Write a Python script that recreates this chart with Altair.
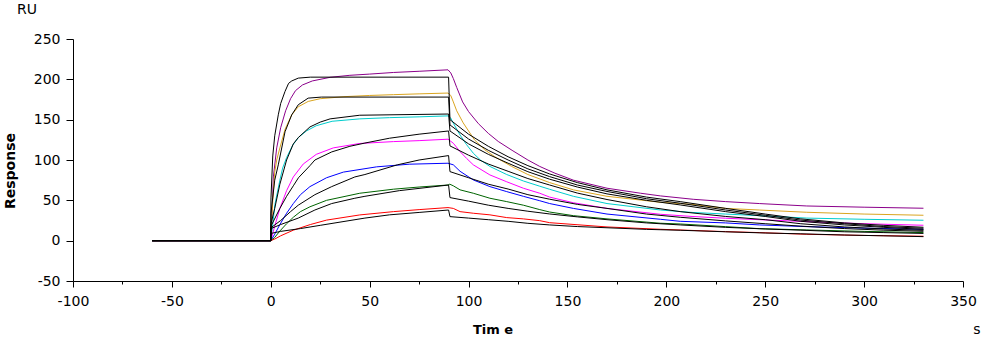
import altair as alt
import pandas as pd

# ---- colored measured curves (time s, response RU) ----
T_PURPLE = [-60, 0, 0.5, 1.3, 3, 5, 7.5, 10, 12.5, 16, 21, 30, 40, 50, 62, 75, 89.6,
            91, 92.3, 94, 97, 100, 105, 110, 115, 122, 130, 136, 143.7, 153, 170, 187, 197, 213.6, 230, 247, 271, 300, 330]
R_PURPLE = [0, 0, 25, 79, 115, 140, 161, 176, 186, 193, 198, 202.5, 205, 206.5, 208.5, 210, 211.8,
            208, 201, 190, 172, 160, 145, 133, 123, 112, 100, 92, 83.6, 75, 65, 58.8, 55.5, 51.3, 48.4, 46, 43, 41.5, 40.2]

T_ORANGE = [-60, 0, 1, 2, 3, 4.6, 7.2, 10.6, 13.9, 18.9, 25, 37, 50, 62, 75, 89.6,
            91, 92.3, 94, 97.3, 100, 103, 108, 113.3, 121.8, 130, 141, 153, 170, 197, 213, 230, 247, 271, 300, 330]
R_ORANGE = [0, 0, 50, 85, 100, 115, 138, 156, 166, 172.6, 176, 178.5, 180, 181, 182, 183,
            180, 172, 161, 146, 136, 125, 113, 104, 92, 82, 72, 63, 55, 47.6, 45, 40, 38, 35.2, 33, 31.5]

T_CYAN = [-60, 0, 1, 2.1, 4.6, 6, 8, 11, 14, 18, 23, 31, 45, 60, 75, 89.6,
          91, 92.3, 95.7, 99, 102.4, 106, 110.8, 119.3, 127.7, 136, 141, 153, 170, 197, 213, 230, 247, 271, 300, 330]
R_CYAN = [0, 0, 20, 45, 75, 90, 103, 118, 128, 136, 142.5, 148, 151, 152.5, 153.5, 154.7,
          152, 145.6, 131, 119, 108.4, 100, 92, 82, 74, 67.5, 63.7, 55, 46, 38, 35, 33, 31, 28, 26.5, 25.3]

T_MAGENTA = [-60, 0, 2, 4.6, 8, 11.4, 16.4, 23, 31.6, 45, 62, 75, 89.6,
             92.3, 95.7, 99, 102.4, 110.8, 119.3, 127.7, 136, 141, 153, 170, 197, 213, 230, 247, 271, 300, 330]
R_MAGENTA = [0, 0, 18, 40, 62, 79, 95, 107, 115, 120.5, 122.8, 124, 125.8,
             120.8, 110.4, 102, 94, 81.5, 73, 65, 58.8, 54, 47, 40, 32.7, 30, 27.8, 26, 23.6, 21, 19.1]

T_BLUE = [-60, 0, 2, 4.6, 8, 11.4, 15, 19.8, 28.2, 36.7, 53.5, 70, 89.6,
          92.3, 95.7, 102.4, 110.8, 119.3, 127.7, 136, 141, 153, 170, 197, 207, 230, 247, 271, 300, 330]
R_BLUE = [0, 0, 8, 20, 34, 46, 57, 67, 78, 85, 91.5, 94.8, 96,
          94, 86, 75.3, 67, 60.8, 55, 49.5, 46, 40, 33, 26.5, 24, 22, 19.5, 17.4, 15.5, 14.1]

T_GREEN = [-60, 0, 2, 4.6, 8, 11.4, 15, 19.8, 28.2, 45, 62, 75, 89.6,
           90.5, 92.3, 95.7, 102.4, 110.8, 119.3, 127.7, 136, 141, 153, 170, 197, 207, 230, 247, 271, 300, 330]
R_GREEN = [0, 0, 4, 12, 21, 29, 36, 42, 50, 58.8, 63.8, 66.5, 69,
           70, 68, 63, 58.8, 52.6, 48.4, 44, 38.5, 35.5, 31, 27, 21.6, 20.7, 17.4, 14.9, 13.3, 11.5, 10]

T_RED = [-60, 0, 2, 5, 11.4, 20, 28.2, 45, 62, 75, 89.6,
         92.3, 95.7, 102.4, 110.8, 119.3, 127.7, 136, 141, 170, 197, 230, 247, 271, 300, 330]
R_RED = [0, 0, 2, 6, 13, 20, 25.5, 31.9, 36, 38.5, 41,
         40, 36, 34, 32, 28.6, 27, 24.8, 22.3, 17, 14.1, 11.2, 10, 7.9, 6.5, 5.5]

# ---- black fitted curves ----
T_FIT1 = [-60, 0, 0.1, 1, 2, 3.8, 5, 7.2, 9, 10.6, 13.9, 20, 89.9,
          90.6, 100, 110, 120, 130, 141, 155, 170, 190, 207, 230, 250, 268, 290, 310, 330]
R_FIT1 = [0, 0, 53, 105, 130, 156, 170, 185, 195, 198, 201.5, 202.7, 202.7,
          150, 132, 117, 104, 93, 82.7, 72, 63, 54, 48.4, 40, 33, 27, 22, 19, 16.6]

T_FIT2 = [-60, 0, 0.1, 2, 3.8, 7.2, 10.6, 13.9, 18.9, 25.6, 89.9,
          90.6, 100, 110, 120, 130, 141, 155, 170, 190, 207, 230, 250, 268, 290, 310, 330]
R_FIT2 = [0, 0, 34, 75, 94, 135, 156, 168.5, 176.7, 178, 178,
          143.5, 126, 112, 100, 89, 79.4, 69, 61, 52, 46.4, 38, 31.5, 25.5, 21, 17.5, 15.4]

T_FIT3 = [-60, 0, 0.1, 2, 4.6, 8, 11.4, 14, 19.8, 25, 30, 45, 89.9,
          90.6, 100, 110, 120, 130, 141, 155, 170, 190, 207, 230, 250, 268, 290, 310, 330]
R_FIT3 = [0, 0, 21, 40, 70, 100, 120, 128, 141, 147, 151, 155.5, 157,
          136, 120, 107, 96, 85.5, 76.2, 66.5, 58, 50, 44.3, 36, 30, 24, 19.5, 16.5, 14]

T_FIT4 = [-60, 0, 0.1, 4.6, 8, 11.4, 14, 19.8, 22.3, 30.8, 40, 47.6, 60, 75, 89.9,
          90.6, 100, 110, 120, 130, 141, 155, 170, 190, 207, 230, 250, 268, 290, 310, 330]
R_FIT4 = [0, 0, 18, 40, 55, 68, 78, 93, 100, 110, 117, 121, 127, 132, 136,
          117.5, 106, 95, 86, 77, 69, 59, 51, 42, 36, 30, 26, 21, 17, 14.5, 12.8]

T_FIT5 = [-60, 0, 0.1, 5, 10, 13.9, 22.3, 30.8, 42.5, 47.6, 64, 75, 89.9,
          90.6, 100, 110, 120, 130, 141, 155, 170, 190, 207, 230, 250, 268, 290, 310, 330]
R_FIT5 = [0, 0, 16, 25, 36, 44, 57, 67, 79, 82, 94, 100, 105.5,
          85.6, 78, 70, 64, 57, 51.4, 45, 40, 33, 29, 24.5, 21, 18, 15, 13, 11.6]

T_FIT6 = [-60, 0, 0.1, 5, 13.9, 22.3, 30.8, 42.5, 47.6, 65, 89.9,
          90.6, 100, 110, 120, 130, 141, 155, 170, 190, 207, 230, 250, 268, 290, 310, 330]
R_FIT6 = [0, 0, 15, 20, 28, 38, 46, 52.6, 55, 62, 69,
          53.4, 49, 44, 40, 36.5, 33.1, 29.5, 26, 22, 19.5, 16.5, 14.5, 13, 11, 10, 9]

T_FIT7 = [-60, 0, 0.1, 5, 15, 25, 35, 47.6, 60, 75, 89.9,
          90.6, 100, 110, 120, 130, 141, 155, 170, 190, 207, 230, 250, 268, 290, 310, 330]
R_FIT7 = [0, 0, 9, 11.5, 15, 19, 23, 28, 32, 35, 38,
          29.8, 28, 26, 24, 21.5, 19.5, 17.5, 16, 14, 12.9, 11, 9.5, 8.5, 7, 6, 5]

CURVE_NAMES = ["purple", "orange", "cyan", "magenta", "blue", "green", "red"]
CURVE_COLORS = ["#8B008B", "#DAA520", "#00CDCD", "#FF00FF", "#0000FF", "#006400", "#FF0000"]
DATA_T = [T_PURPLE, T_ORANGE, T_CYAN, T_MAGENTA, T_BLUE, T_GREEN, T_RED]
DATA_R = [R_PURPLE, R_ORANGE, R_CYAN, R_MAGENTA, R_BLUE, R_GREEN, R_RED]
FIT_T = [T_FIT1, T_FIT2, T_FIT3, T_FIT4, T_FIT5, T_FIT6, T_FIT7]
FIT_R = [R_FIT1, R_FIT2, R_FIT3, R_FIT4, R_FIT5, R_FIT6, R_FIT7]

X_TICKS = list(range(-100, 351, 25))
Y_TICKS = list(range(-50, 251, 25))

rows = []
for name, ts, rs in zip(CURVE_NAMES, DATA_T, DATA_R):
    for i, (t, r) in enumerate(zip(ts, rs)):
        rows.append({"t": t, "R": r, "curve": name, "i": i})
df_data = pd.DataFrame(rows)

rows = []
for k, (ts, rs) in enumerate(zip(FIT_T, FIT_R)):
    for i, (t, r) in enumerate(zip(ts, rs)):
        rows.append({"t": t, "R": r, "curve": f"fit{k+1}", "i": i})
df_fit = pd.DataFrame(rows)

FONT = "DejaVu Sans"

x_enc = alt.X("t:Q", scale=alt.Scale(domain=[-100, 350], nice=False, zero=False),
              axis=alt.Axis(values=X_TICKS, title=None, grid=False,
                            labelExpr="datum.value % 50 == 0 ? '' + datum.value : ''",
                            tickSize=alt.condition("datum.value % 50 == 0", alt.value(6), alt.value(3)),
                            labelPadding=7, labelFlush=False))
y_enc = alt.Y("R:Q", scale=alt.Scale(domain=[-50, 250], nice=False, zero=False),
              axis=alt.Axis(values=Y_TICKS, title=None, grid=False,
                            labelExpr="datum.value % 50 == 0 ? '' + datum.value : ''",
                            tickSize=alt.condition("datum.value % 50 == 0", alt.value(7), alt.value(3)),
                            labelPadding=6, labelFlush=False))

data_layer = alt.Chart(df_data).mark_line(strokeWidth=1).encode(
    x=x_enc, y=y_enc,
    color=alt.Color("curve:N", scale=alt.Scale(domain=CURVE_NAMES, range=CURVE_COLORS), legend=None),
    order="i:Q",
)

fit_layer = alt.Chart(df_fit).mark_line(strokeWidth=1, color="black").encode(
    x="t:Q", y="R:Q", detail="curve:N", order="i:Q",
)

one = pd.DataFrame({"a": [0]})
ru = alt.Chart(one).mark_text(text="RU", font=FONT, fontSize=14, color="black",
                              align="center", baseline="middle").encode(
    x=alt.value(-46), y=alt.value(-29))
resp = alt.Chart(one).mark_text(text="Response", font=FONT, fontSize=14, fontWeight="bold",
                                color="black", angle=270, align="center", baseline="middle").encode(
    x=alt.value(-62), y=alt.value(132))
timet = alt.Chart(one).mark_text(text="Tim e", font=FONT, fontSize=13, fontWeight="bold",
                                 color="black", align="center", baseline="middle").encode(
    x=alt.value(420), y=alt.value(291))
unit_s = alt.Chart(one).mark_text(text="s", font=FONT, fontSize=14, color="black",
                                  align="center", baseline="middle").encode(
    x=alt.value(904), y=alt.value(291))

chart = alt.layer(data_layer, fit_layer, ru, resp, timet, unit_s).properties(
    width=890, height=242,
    autosize=alt.AutoSizeParams(type="none"),
    padding={"left": 73, "top": 39, "right": 21, "bottom": 61},
    background="white",
).configure_view(strokeWidth=0).configure_axis(
    domainColor="black", domainWidth=1, tickColor="black", tickWidth=1,
    labelColor="black", labelFont=FONT, labelFontSize=14,
)

chart.save("out.html", embed_options={"renderer": "svg", "actions": False})
